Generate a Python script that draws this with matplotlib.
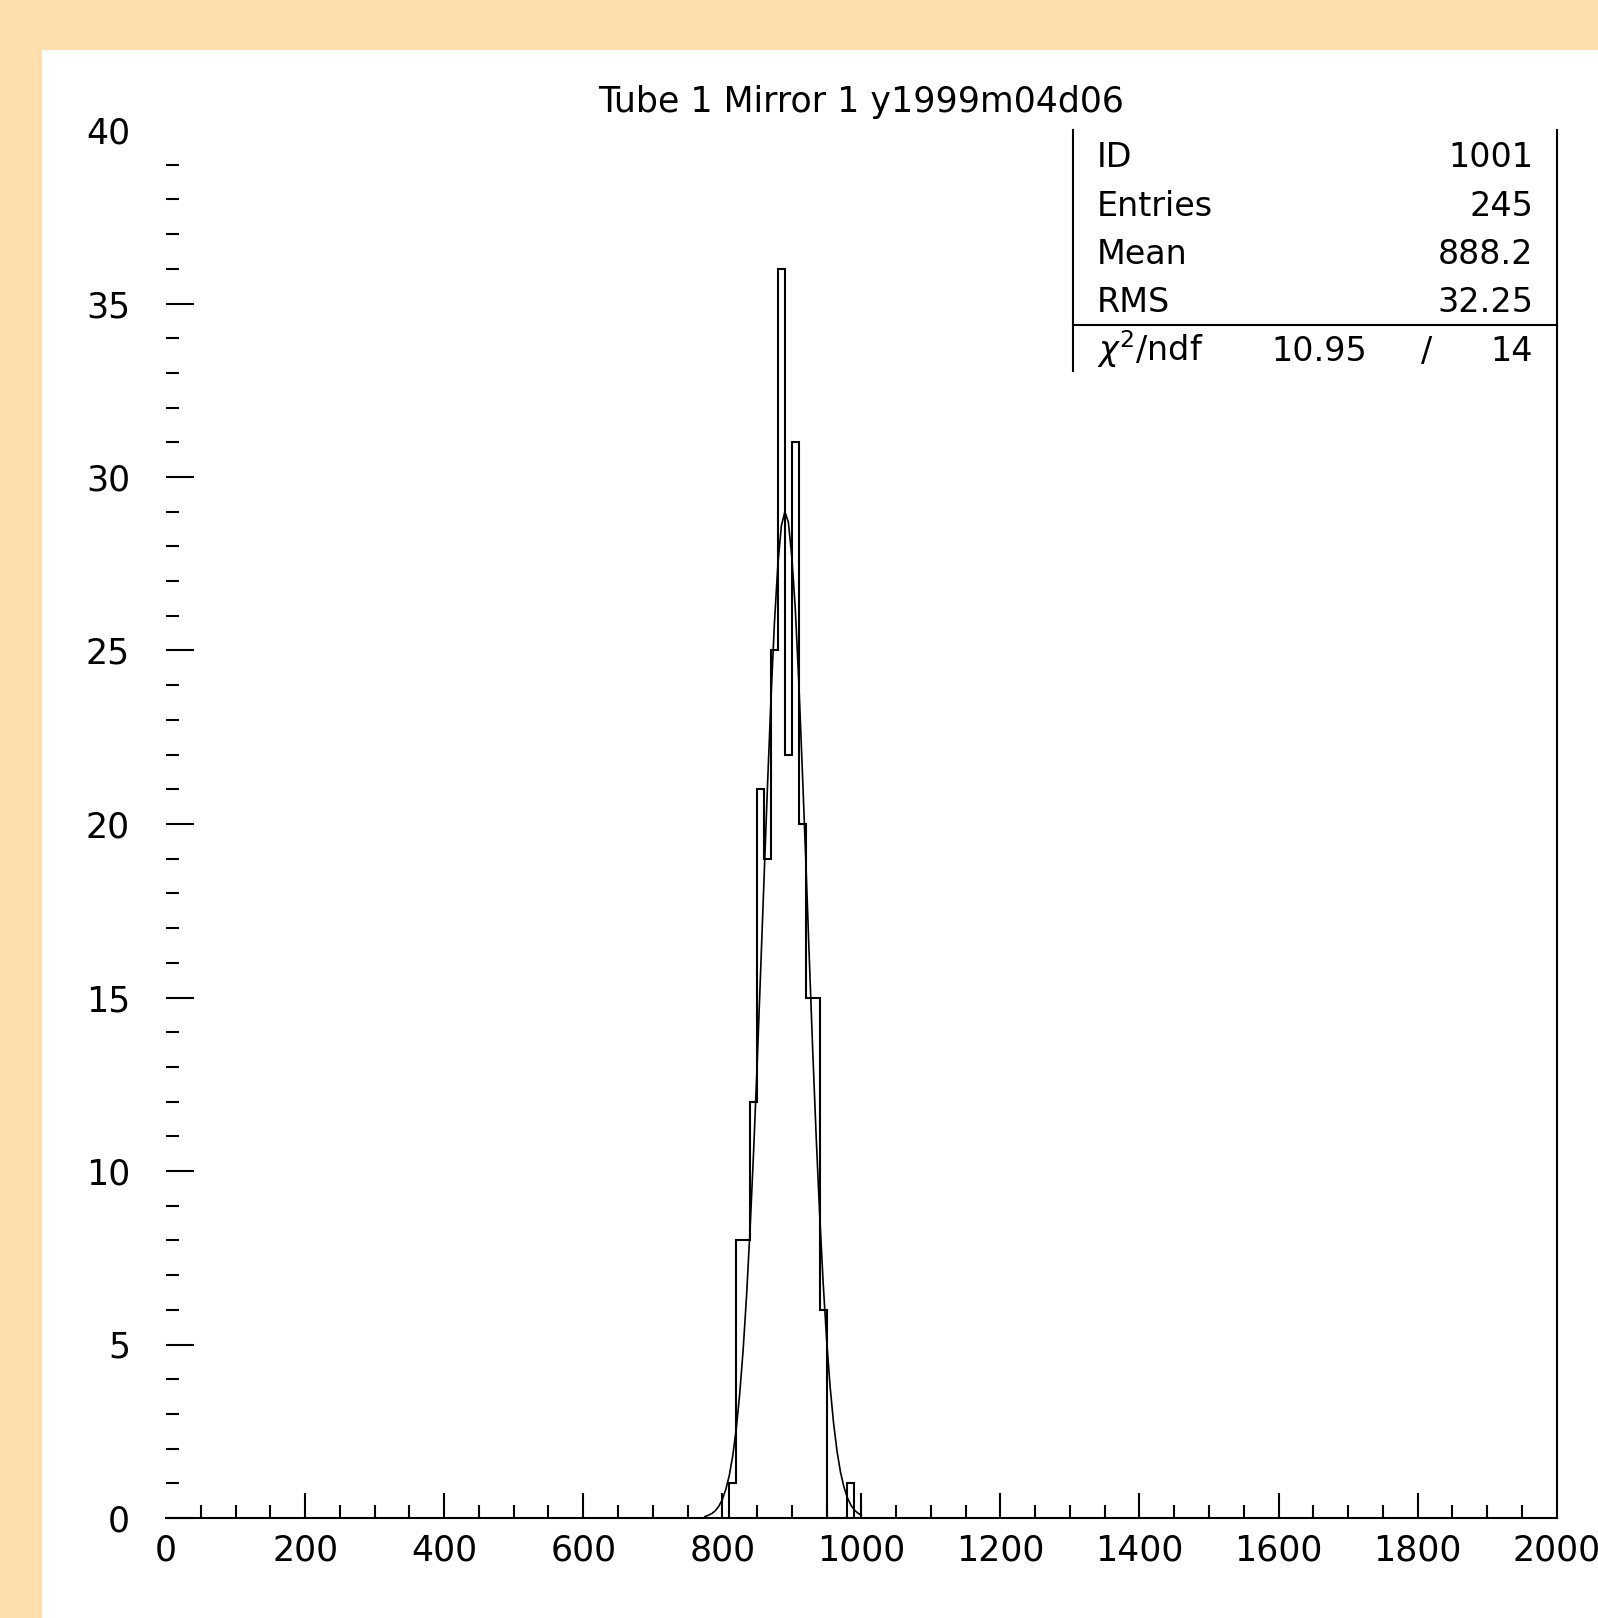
import matplotlib
matplotlib.use("Agg")
import matplotlib.pyplot as plt
from matplotlib.patches import Rectangle
from matplotlib.lines import Line2D
from matplotlib.ticker import MultipleLocator

# ---------------- data ----------------
title = "Tube 1 Mirror 1 y1999m04d06"

bin_edges = [800, 810, 820, 830, 840, 850, 860, 870, 880, 890, 900,
             910, 920, 930, 940, 950, 960, 970, 980, 990, 1000]
counts = [0, 1, 8, 8, 12, 21, 19, 25, 36, 22,
          31, 20, 15, 15, 6, 0, 0, 0, 1, 0]

fit_x = [775, 780, 785, 790, 795, 800, 805, 810, 815, 820, 825, 830, 835,
         840, 845, 850, 855, 860, 865, 870, 875, 880, 885, 890, 895, 900,
         905, 910, 915, 920, 925, 930, 935, 940, 945, 950, 955, 960, 965,
         970, 975, 980, 985, 990, 995, 1000]
fit_y = [0.04, 0.08, 0.13, 0.21, 0.34, 0.53, 0.82, 1.22, 1.79, 2.56, 3.57,
         4.85, 6.44, 8.35, 10.55, 13.0, 15.7, 18.4, 21.1, 23.6, 25.8, 27.5,
         28.6, 29.0, 28.7, 27.7, 26.2, 24.1, 21.6, 19.0, 16.2, 13.5, 11.0,
         8.77, 6.80, 5.15, 3.80, 2.74, 1.93, 1.32, 0.89, 0.58, 0.37, 0.23,
         0.14, 0.08]

x_ticks = [0, 200, 400, 600, 800, 1000, 1200, 1400, 1600, 1800, 2000]
x_tick_labels = ["0", "200", "400", "600", "800", "1000", "1200", "1400",
                 "1600", "1800", "2000"]
y_ticks = [0, 5, 10, 15, 20, 25, 30, 35, 40]
y_tick_labels = ["0", "5", "10", "15", "20", "25", "30", "35", "40"]

stats_labels = ["ID", "Entries", "Mean", "RMS"]
stats_values = ["1001", "245", "888.2", "32.25"]
chi2_label = r"$\chi^2$/ndf"
chi2_value = "10.95"
ndf_value = "14"

# ---------------- figure ----------------
W, H = 1598, 1618
BG = "#FFDEAD"


def fx(px):
    return px / W


def fy(py):
    return 1 - py / H


fig = plt.figure(figsize=(W / 100, H / 100), dpi=100, facecolor=BG)
fig.add_artist(Rectangle((fx(42), 0), 1 - fx(42), fy(50), transform=fig.transFigure,
                         facecolor="white", edgecolor="none", zorder=0))

ax_l, ax_r, ax_t, ax_b = 166.1, 1556.6, 130.0, 1518.0
ax = fig.add_axes([fx(ax_l), fy(ax_b), fx(ax_r - ax_l), (ax_b - ax_t) / H])
ax.set_facecolor("none")
ax.set_xlim(0, 2000)
ax.set_ylim(0, 40)

lw = 1.5
ax.stairs(counts, bin_edges, color="black", linewidth=lw, baseline=0)
ax.plot(fit_x, fit_y, color="black", linewidth=1.2)

for s in ("left", "top"):
    ax.spines[s].set_visible(False)
for s in ("right", "bottom"):
    ax.spines[s].set_linewidth(lw)

ax.set_xticks(x_ticks)
ax.set_xticklabels(x_tick_labels)
ax.set_yticks(y_ticks)
ax.set_yticklabels(y_tick_labels)
ax.xaxis.set_minor_locator(MultipleLocator(50))
ax.yaxis.set_minor_locator(MultipleLocator(1))
ax.tick_params(axis="x", which="major", direction="in", length=18, width=lw,
               pad=11, labelsize=25)
ax.tick_params(axis="x", which="minor", direction="in", length=9.5, width=lw)
ax.tick_params(axis="y", which="major", direction="in", length=20, width=lw,
               pad=26, labelsize=25)
ax.tick_params(axis="y", which="minor", direction="in", length=9.7, width=lw)
ax.yaxis.get_major_ticks()[-1].tick1line.set_visible(False)
ax.xaxis.get_major_ticks()[-1].tick1line.set_visible(False)
ax.xaxis.get_major_ticks()[0].tick1line.set_visible(False)

# title
fig.text(fx(861), fy(112.4), title, ha="center", va="baseline", fontsize=25)

# stats box
box_x = 1072.8
fig.add_artist(Line2D([fx(box_x), fx(box_x)], [fy(130), fy(371)],
                      transform=fig.transFigure, color="black", linewidth=lw))
fig.add_artist(Line2D([fx(box_x), fx(ax_r)], [fy(325), fy(325)],
                      transform=fig.transFigure, color="black", linewidth=lw))
row_base = [167, 215.5, 264, 312.5]
for lab, val, yb in zip(stats_labels, stats_values, row_base):
    fig.text(fx(1097), fy(yb), lab, ha="left", va="baseline", fontsize=24)
    fig.text(fx(1533), fy(yb), val, ha="right", va="baseline", fontsize=24)
fig.text(fx(1097), fy(361), chi2_label, ha="left", va="baseline", fontsize=24)
fig.text(fx(1367), fy(361), chi2_value, ha="right", va="baseline", fontsize=24)
fig.text(fx(1427), fy(361), "/", ha="center", va="baseline", fontsize=24)
fig.text(fx(1533), fy(361), ndf_value, ha="right", va="baseline", fontsize=24)

fig.savefig("out.png", dpi=100, facecolor=BG)
